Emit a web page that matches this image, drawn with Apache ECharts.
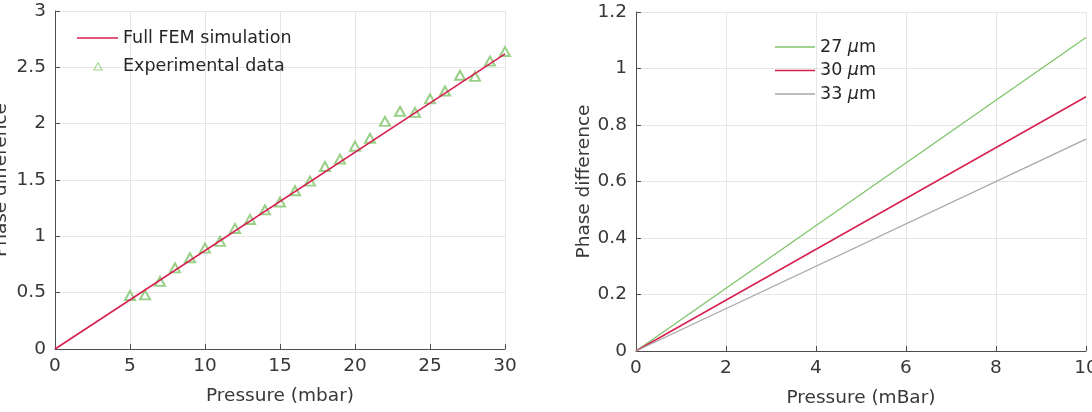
<!DOCTYPE html>
<html><head><meta charset="utf-8">
<script src="https://cdn.jsdelivr.net/npm/echarts@6/dist/echarts.min.js"></script>
<style>html,body{margin:0;padding:0;background:#fff}#c{width:1092px;height:412px}</style>
</head><body><div id="c"></div>
<script>
// ---- Left panel data ----
const femPressure = [0, 30];
const femPhase = [0, 2.62];
const expPressure = [5,6,7,8,9,10,11,12,13,14,15,16,17,18,19,20,21,22,23,24,25,26,27,28,29,30];
const expPhase = [0.475,0.48,0.60,0.72,0.81,0.895,0.955,1.07,1.15,1.235,1.305,1.405,1.49,1.62,1.685,1.80,1.87,2.02,2.11,2.10,2.22,2.29,2.43,2.42,2.555,2.64];
const leftXTicks = [0,5,10,15,20,25,30];
const leftYTicks = [0,0.5,1,1.5,2,2.5,3];

// ---- Right panel data ----
const rightPressure = [0, 10];
const phase27 = [0, 1.11];
const phase30 = [0, 0.90];
const phase33 = [0, 0.75];
const rightXTicks = [0,2,4,6,8,10];
const rightYTicks = [0,0.2,0.4,0.6,0.8,1,1.2];
const rightNames = ['27 μm','30 μm','33 μm'];

const FONT = 'DejaVu Sans, Verdana, sans-serif';
const AXC = '#4d4d4d';
const TXT = '#383838';
const LEGTXT = '#262626';
const GRIDC = '#e6e6e6';
const RED = '#d6204f', GREEN = '#7fc46a', GRAY = '#a8a8a8';

// legend icons (41x10 box; invisible moveTo corners fix the bounding box)
const LINE_ICON = 'path://M0,0 M41,10 M0,4.25 L41,4.25 L41,5.75 L0,5.75 Z';
const TRI_ICON = 'path://M0,0 M41,10 M21,0.8 L26,9.4 L16,9.4 Z M21,2.8 L17.7,8.5 L24.3,8.5 Z';

function zip(a,b){return a.map((v,i)=>[v,b[i]]);}

function xAxisCfg(grid, ticks, name){
  return {type:'value', gridIndex:grid, min:ticks[0], max:ticks[ticks.length-1], interval:ticks[1]-ticks[0],
    name:name, nameLocation:'middle', nameGap:38,
    nameTextStyle:{fontFamily:FONT, fontSize:18.5, color:TXT},
    axisLine:{show:true, onZero:false, lineStyle:{color:AXC, width:1}},
    axisTick:{show:true, inside:true, length:5, lineStyle:{color:AXC}},
    axisLabel:{fontFamily:FONT, fontSize:18.5, color:TXT, margin:8},
    splitLine:{show:true, lineStyle:{color:GRIDC, width:1}}};
}
function yAxisCfg(grid, ticks, gap){
  return {type:'value', gridIndex:grid, min:ticks[0], max:ticks[ticks.length-1], interval:ticks[1]-ticks[0],
    name:'Phase difference', nameLocation:'middle', nameGap:gap, nameRotate:90,
    nameTextStyle:{fontFamily:FONT, fontSize:18.5, color:TXT},
    axisLine:{show:true, onZero:false, lineStyle:{color:AXC, width:1}},
    axisTick:{show:true, inside:true, length:5, lineStyle:{color:AXC}},
    axisLabel:{fontFamily:FONT, fontSize:18.5, color:TXT, margin:9},
    splitLine:{show:true, lineStyle:{color:GRIDC, width:1}}};
}

const chart = echarts.init(document.getElementById('c'), null, {renderer:'canvas'});
chart.setOption({
  animation:false,
  backgroundColor:'#fff',
  grid:[
    {left:55, top:11, width:450, height:338, containLabel:false, outerBoundsMode:'none'},
    {left:636, top:12, width:450, height:339, containLabel:false, outerBoundsMode:'none'}
  ],
  xAxis:[xAxisCfg(0, leftXTicks, 'Pressure (mbar)'), xAxisCfg(1, rightXTicks, 'Pressure (mBar)')],
  yAxis:[yAxisCfg(0, leftYTicks, 44), yAxisCfg(1, rightYTicks, 40)],
  legend:[
    {data:[{name:'Full FEM simulation', icon:LINE_ICON, itemStyle:{color:RED, borderWidth:0}},
           {name:'Experimental data', icon:TRI_ICON, itemStyle:{color:GREEN, borderWidth:0}}],
     orient:'vertical', left:77, top:29,
     itemWidth:41, itemHeight:10, itemGap:10, padding:0,
     textStyle:{fontFamily:FONT, fontSize:17.5, color:LEGTXT}},
    {data:[{name:rightNames[0], icon:LINE_ICON, itemStyle:{color:GREEN, borderWidth:0}},
           {name:rightNames[1], icon:LINE_ICON, itemStyle:{color:RED, borderWidth:0}},
           {name:rightNames[2], icon:LINE_ICON, itemStyle:{color:GRAY, borderWidth:0}}],
     orient:'vertical', left:775, top:38,
     itemWidth:40, itemHeight:10, itemGap:5.5, padding:0,
     formatter:function(n){const p=n.split(' ');return '{n|'+p[0]+' }{mu|μ}{n|m}';},
     textStyle:{fontFamily:FONT, fontSize:17.5, color:LEGTXT,
       rich:{n:{fontFamily:FONT,fontSize:17.5,color:LEGTXT},
             mu:{fontFamily:FONT,fontStyle:'italic',fontSize:17.5,color:LEGTXT}}}}
  ],
  series:[
    {name:'Experimental data', type:'scatter', xAxisIndex:0, yAxisIndex:0, data:zip(expPressure,expPhase),
     symbol:'emptyTriangle', symbolSize:[10,9], itemStyle:{color:GREEN, borderColor:GREEN, borderWidth:1}, z:2},
    {name:'Full FEM simulation', type:'line', xAxisIndex:0, yAxisIndex:0, data:zip(femPressure,femPhase),
     showSymbol:false, symbol:'none', lineStyle:{color:RED, width:1.6}, itemStyle:{color:RED}, z:3},
    {name:rightNames[0], type:'line', xAxisIndex:1, yAxisIndex:1, data:zip(rightPressure,phase27),
     showSymbol:false, symbol:'none', lineStyle:{color:GREEN, width:1.3}, itemStyle:{color:GREEN}},
    {name:rightNames[1], type:'line', xAxisIndex:1, yAxisIndex:1, data:zip(rightPressure,phase30),
     showSymbol:false, symbol:'none', lineStyle:{color:RED, width:1.5}, itemStyle:{color:RED}},
    {name:rightNames[2], type:'line', xAxisIndex:1, yAxisIndex:1, data:zip(rightPressure,phase33),
     showSymbol:false, symbol:'none', lineStyle:{color:GRAY, width:1.2}, itemStyle:{color:GRAY}}
  ]
});
</script></body></html>
